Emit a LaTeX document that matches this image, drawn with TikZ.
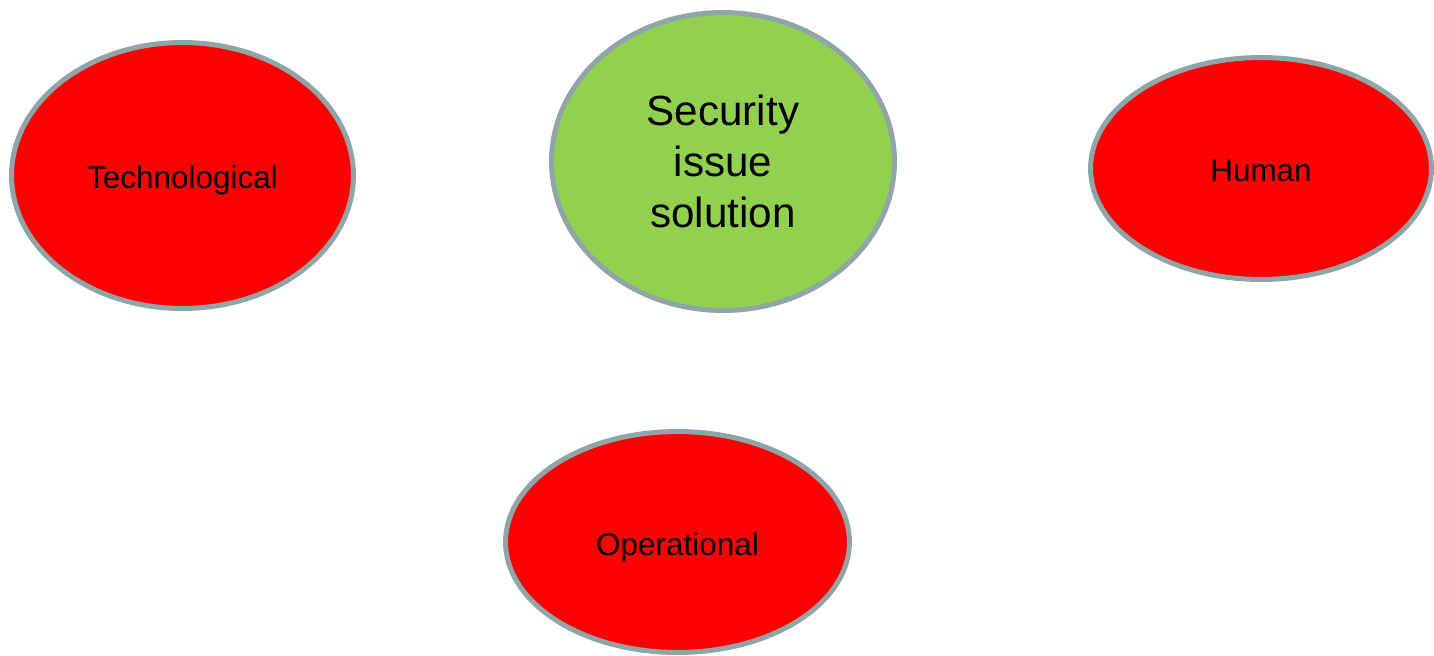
\documentclass[tikz,border=0pt]{standalone}
\usepackage{fontspec}
\setmainfont{Liberation Sans}
\usetikzlibrary{shapes.geometric}
\definecolor{rimgray}{HTML}{8FA5A8}
\definecolor{issuered}{HTML}{FF0000}
\definecolor{solgreen}{HTML}{92D050}
\tikzset{
  blob/.style={ellipse, draw=rimgray, line width=0.1cm, inner sep=0pt, align=center},
  factor/.style={blob, fill=issuered, font=\fontsize{17.9}{21}\selectfont,
    text height=0.52cm, text depth=0cm},
  core/.style={blob, fill=solgreen, font=\fontsize{24}{29}\selectfont}
}
\begin{document}
\begin{tikzpicture}[x=0.02cm, y=-0.02cm]
  \useasboundingbox (0,0) rectangle (1434,656);
  \node[factor, minimum width=6.84cm, minimum height=5.32cm] (tech) at (182.5,175.5) {Technological};
  \node[core, minimum width=6.86cm, minimum height=5.96cm] (sol) at (723,161.5) {Security\\issue\\solution};
  \node[factor, minimum width=6.82cm, minimum height=4.44cm] (human) at (1261,168.5) {Human};
  \node[factor, minimum width=6.88cm, minimum height=4.42cm] (oper) at (677.5,542) {Operational};
\end{tikzpicture}
\end{document}
